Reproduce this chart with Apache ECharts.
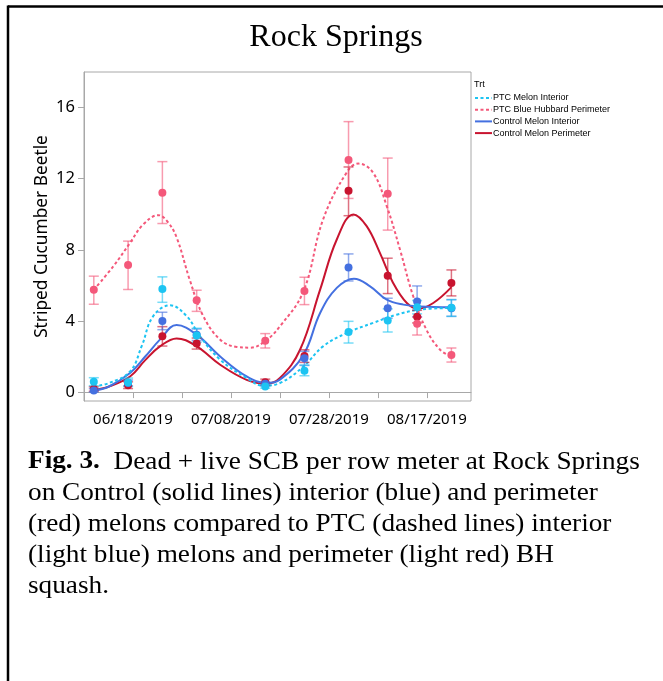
<!DOCTYPE html>
<html><head><meta charset="utf-8">
<script src="https://cdn.jsdelivr.net/npm/echarts@6/dist/echarts.min.js"></script>
<style>html,body{margin:0;padding:0;background:#fff;}#c{width:663px;height:681px;}</style>
</head><body><div id="c"></div>
<script>
// ---- data ----
const originDate = '06/08/2019';
const sampleDates = ['06/10/2019','06/17/2019','06/24/2019','07/01/2019','07/15/2019','07/23/2019','08/01/2019','08/09/2019','08/15/2019','08/22/2019'];
const xTickLabels = ['06/18/2019','07/08/2019','07/28/2019','08/17/2019'];
const yTickLabels = [0, 4, 8, 12, 16];
const seriesNames = ['PTC Melon Interior','PTC Blue Hubbard Perimeter','Control Melon Interior','Control Melon Perimeter'];

// PTC Melon Interior
const ptcIntMean = [0.58,0.54,5.80,3.19,0.32,1.20,3.38,4.02,4.77,4.75];
const ptcIntLo   = [0.36,0.32,5.05,2.80,0.22,0.92,2.76,3.38,4.40,4.26];
const ptcIntHi   = [0.81,0.79,6.48,3.59,0.42,1.52,3.98,4.68,5.15,5.20];
// PTC Blue Hubbard Perimeter
const ptcPerMean = [5.75,7.15,11.21,5.16,2.89,5.69,13.05,11.15,3.85,2.08];
const ptcPerLo   = [4.94,5.77,9.48,4.54,2.48,4.92,10.89,9.11,3.21,1.69];
const ptcPerHi   = [6.52,8.49,12.96,5.73,3.29,6.46,15.21,13.16,4.21,2.48];
// Control Melon Interior
const ctlIntMean = [0.09,0.51,4.00,3.23,0.47,1.90,7.00,4.71,5.10,4.71];
const ctlIntLo   = [0.00,0.35,3.51,2.90,0.35,1.50,6.25,4.15,4.24,4.26];
const ctlIntHi   = [0.20,0.68,4.49,3.55,0.60,2.29,7.77,5.28,5.97,5.20];
// Control Melon Perimeter
const ctlPerMean = [0.17,0.38,3.14,2.74,0.56,2.03,11.32,6.54,4.24,6.14];
const ctlPerLo   = [0.05,0.20,2.59,2.42,0.39,1.67,9.92,5.54,3.89,5.41];
const ctlPerHi   = [0.30,0.58,3.68,3.04,0.73,2.38,12.66,7.53,4.60,6.87];

// fitted smooth curves (day offset from 06/08/2019, value)
const ptcIntCurveDay = [2,5,9.4,11.8,14.1,17.6,21,23.7,27.8,33.2,36.6,40,44.8,48.8,53.6,59,63.8,68.6,75];
const ptcIntCurveVal = [0.32,0.5,1.16,2.6,4.26,4.88,4.26,3.13,1.82,0.79,0.36,0.51,1.44,2.57,3.32,3.89,4.35,4.64,4.73];
const ptcPerCurveDay = [2,6,9.4,12,15.2,17,18.9,21.6,24.3,27.8,31.2,33.9,36.9,40,44.8,48.8,53.6,56,59,61.8,64.5,67.2,69.9,72.7,75];
const ptcPerCurveVal = [5.75,7.08,8.39,9.4,9.95,9.6,8.7,6.3,4.3,2.95,2.54,2.5,2.85,3.7,5.67,9.7,12.34,12.85,12.34,10.46,8.02,5.39,3.51,2.38,2.0];
const ctlIntCurveDay = [2,5,9.4,12.5,15.5,18.9,23,27.8,33.2,37.3,40,44.8,48.2,51.6,55.1,58.4,61.8,65.2,68.6,75];
const ctlIntCurveVal = [0.08,0.3,1.07,2.0,2.95,3.77,3.23,2.0,0.88,0.51,0.7,2.1,4.45,5.86,6.38,5.95,5.2,4.92,4.82,4.77];
const ctlPerCurveDay = [2,5,9.4,12.5,15.5,18.9,23,27.8,33.2,37.3,40,44.1,48.2,51.6,55,57.7,60.4,63.1,65.9,68.2,71.3,75];
const ctlPerCurveVal = [0.13,0.3,0.88,1.8,2.57,3.02,2.57,1.54,0.69,0.47,0.79,2.38,5.76,8.58,9.99,9.33,7.83,6.14,5.01,4.69,5.01,5.9];

const captionLines = [
  '{b|Fig. 3.}  Dead + live SCB per row meter at Rock Springs',
  'on Control (solid lines) interior (blue) and perimeter',
  '(red) melons compared to PTC (dashed lines) interior',
  '(light blue) melons and perimeter (light red) BH',
  'squash.'
];

// ---- helpers ----
function toUTC(s){ const p = s.split('/').map(Number); return Date.UTC(p[2], p[0]-1, p[1]); }
const DAY = 86400000;
const origin = toUTC(originDate);
const dayOf = s => Math.round((toUTC(s) - origin) / DAY);
const sampleDays = sampleDates.map(dayOf);
const tickDays = xTickLabels.map(dayOf);
function dayLabel(v){
  const d = new Date(origin + v*DAY);
  const mm = String(d.getUTCMonth()+1).padStart(2,'0'), dd = String(d.getUTCDate()).padStart(2,'0');
  return mm + '/' + dd + '/' + d.getUTCFullYear();
}
const xTickAll = [];
for (let v = tickDays[0] - 10; v <= tickDays[tickDays.length-1]; v += 10) xTickAll.push(v);

const colors = ['#1cc4f2', '#f4587a', '#4470e0', '#c8142f'];
const dashed = [true, true, false, false];
const means = [ptcIntMean, ptcPerMean, ctlIntMean, ctlPerMean];
const los = [ptcIntLo, ptcPerLo, ctlIntLo, ctlPerLo];
const his = [ptcIntHi, ptcPerHi, ctlIntHi, ctlPerHi];
const curveDays = [ptcIntCurveDay, ptcPerCurveDay, ctlIntCurveDay, ctlPerCurveDay];
const curveVals = [ptcIntCurveVal, ptcPerCurveVal, ctlIntCurveVal, ctlPerCurveVal];

const series = [];
[3,2,1,0].forEach(i => {
  series.push({
    type: 'line', name: seriesNames[i], smooth: 0.4, symbol: 'none', z: 2,
    data: curveDays[i].map((d,k) => [d, curveVals[i][k]]),
    lineStyle: { color: colors[i], width: 2, type: dashed[i] ? [3,2.5] : 'solid' },
    itemStyle: { color: colors[i] }
  });
});
[3,2,1,0].forEach(i => {
  const color = colors[i];
  series.push({
    type: 'custom', name: seriesNames[i] + ' error', z: 3,
    data: sampleDays.map((d,k) => [d, los[i][k], his[i][k]]),
    encode: { x: 0, y: [1,2] },
    renderItem: function(params, api){
      const x = api.value(0);
      const p1 = api.coord([x, api.value(1)]), p2 = api.coord([x, api.value(2)]);
      const w = 5;
      const st = { stroke: color, lineWidth: 1.5, opacity: 0.6 };
      return { type: 'group', children: [
        { type: 'line', shape: { x1: p1[0], y1: p1[1], x2: p2[0], y2: p2[1] }, style: st },
        { type: 'line', shape: { x1: p1[0]-w, y1: p1[1], x2: p1[0]+w, y2: p1[1] }, style: st },
        { type: 'line', shape: { x1: p2[0]-w, y1: p2[1], x2: p2[0]+w, y2: p2[1] }, style: st }
      ]};
    }
  });
});
[3,2,1,0].forEach(i => {
  series.push({
    type: 'scatter', name: seriesNames[i] + ' mean', z: 4, symbolSize: 8,
    data: sampleDays.map((d,k) => [d, means[i][k]]),
    itemStyle: { color: colors[i], opacity: 1 }
  });
});

const graphic = [
  { type: 'line', shape: { x1: 8, y1: 6.5, x2: 663, y2: 6.5 }, style: { stroke: '#000', lineWidth: 2.5 } },
  { type: 'line', shape: { x1: 8, y1: 5.5, x2: 8, y2: 681 }, style: { stroke: '#000', lineWidth: 2.5 } },
  { type: 'text', style: { text: 'Rock Springs', x: 336, y: 38, align: 'center', verticalAlign: 'middle',
      font: '32px "Liberation Serif", serif', fill: '#000' } },
  { type: 'text', style: { text: 'Trt', x: 474, y: 85, align: 'left', verticalAlign: 'middle',
      font: '9px "Liberation Sans", sans-serif', fill: '#000' } }
];
const captionY = [462, 493, 524, 555, 586];
captionLines.forEach((t, i) => {
  graphic.push({ type: 'text', x: 28, y: captionY[i], scaleX: 1.09, scaleY: 1,
    style: { text: t, x: 0, y: 0, align: 'left', verticalAlign: 'middle',
    fontFamily: '"Liberation Serif", serif', fontSize: 25, fill: '#000',
    rich: { b: { fontWeight: 'bold', fontFamily: '"Liberation Serif", serif', fontSize: 25 } } } });
});

const chart = echarts.init(document.getElementById('c'), null, { renderer: 'canvas' });
chart.setOption({
  animation: false,
  backgroundColor: '#fff',
  grid: { left: 84, right: 192, top: 72, bottom: 280, show: true, borderColor: '#a8a8a8', borderWidth: 1, containLabel: false },
  xAxis: {
    type: 'value', min: 0, max: 79, interval: 10,
    splitLine: { show: false },
    axisLine: { show: true, lineStyle: { color: '#a8a8a8', width: 1 } },
    axisTick: { show: true, length: 6, lineStyle: { color: '#a8a8a8' }, customValues: xTickAll },
    axisLabel: { color: '#000', fontSize: 15, fontFamily: '"Noto Sans", sans-serif', margin: 11,
      customValues: tickDays,
      formatter: v => tickDays.includes(v) ? dayLabel(v) : '' }
  },
  yAxis: {
    type: 'value', min: -0.5, max: 18, minInterval: 4, maxInterval: 4,
    splitLine: { show: false },
    axisLine: { show: true, lineStyle: { color: '#a8a8a8', width: 1 } },
    axisTick: { show: true, length: 6, lineStyle: { color: '#a8a8a8' }, customValues: yTickLabels },
    axisLabel: { color: '#000', fontSize: 16.5, fontFamily: '"Noto Sans", sans-serif', margin: 9,
      customValues: yTickLabels,
      formatter: v => yTickLabels.includes(v) ? String(v) : '' },
    name: 'Striped Cucumber Beetle', nameLocation: 'middle', nameGap: 33, nameMoveOverlap: false,
    nameTextStyle: { color: '#000', fontSize: 17.3, fontFamily: '"Noto Sans", sans-serif' }
  },
  legend: {
    data: seriesNames, orient: 'vertical', left: 474, top: 93.5, itemWidth: 17, itemHeight: 9, itemGap: 2.7,
    itemStyle: { opacity: 0 },
    textStyle: { fontSize: 9, fontFamily: '"Liberation Sans", sans-serif', color: '#000', padding: [0,0,0,-4] },
    selectedMode: false, padding: 0
  },
  graphic: graphic,
  series: series
});
</script></body></html>
